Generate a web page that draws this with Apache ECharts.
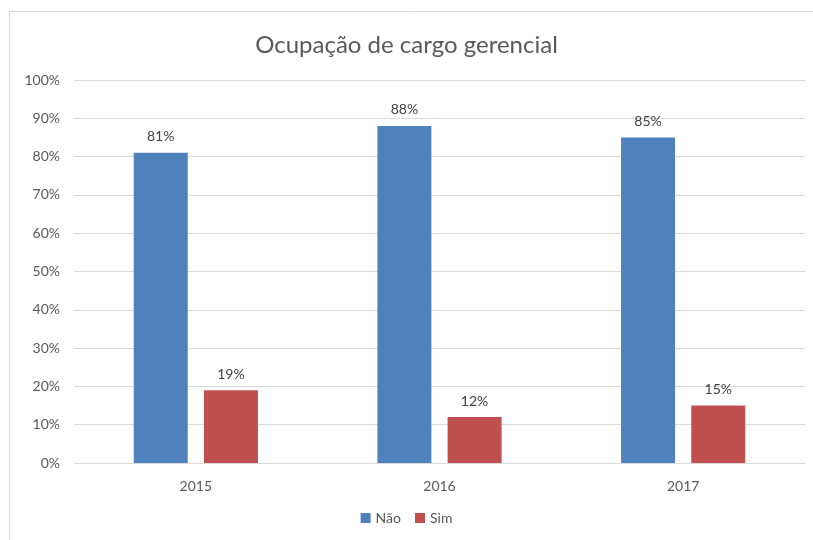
<!DOCTYPE html>
<html>
<head>
<meta charset="utf-8">
<script src="https://cdn.jsdelivr.net/npm/echarts@6/dist/echarts.min.js"></script>
<style>
html,body{margin:0;padding:0;background:#fff;}
#container{width:813px;height:540px;}
</style>
</head>
<body>
<div id="container"></div>
<script>
var categories = ['2015', '2016', '2017'];
var naoValues = [81, 88, 85];
var simValues = [19, 12, 15];
var yTicks = [0, 10, 20, 30, 40, 50, 60, 70, 80, 90, 100];

var font = 'Lato, "Open Sans", sans-serif';

var labelStyle = {
    show: true,
    position: 'top',
    distance: 9,
    formatter: '{c}%',
    color: '#404040',
    fontSize: 14,
    fontFamily: font
};

var option = {
    backgroundColor: '#fff',
    animation: false,
    graphic: [{
        type: 'rect',
        shape: {x: 9.5, y: 11.5, width: 820, height: 540},
        style: {fill: 'none', stroke: '#d9d9d9', lineWidth: 1},
        silent: true
    }],
    title: {
        text: 'Ocupação de cargo gerencial',
        left: 'center',
        top: 28,
        textStyle: {
            color: '#595959',
            fontSize: 24,
            fontWeight: 'normal',
            fontFamily: font
        }
    },
    legend: {
        bottom: 10,
        left: 'center',
        itemWidth: 10,
        itemHeight: 10,
        itemGap: 14,
        icon: 'rect',
        textStyle: {color: '#595959', fontSize: 14, fontFamily: font},
        data: ['Não', 'Sim']
    },
    grid: {
        left: 74,
        right: 8,
        top: 80,
        bottom: 77,
        containLabel: false
    },
    xAxis: {
        type: 'category',
        data: categories,
        axisLine: {lineStyle: {color: '#d9d9d9', width: 1}},
        axisTick: {show: false},
        axisLabel: {color: '#595959', fontSize: 14, fontFamily: font, margin: 16}
    },
    yAxis: {
        type: 'value',
        min: yTicks[0],
        max: yTicks[yTicks.length - 1],
        interval: 10,
        axisLine: {show: false},
        axisTick: {show: false},
        splitLine: {lineStyle: {color: '#d9d9d9', width: 1}},
        axisLabel: {
            formatter: '{value}%',
            color: '#595959',
            fontSize: 14,
            fontFamily: font,
            margin: 14
        }
    },
    series: [
        {
            name: 'Não',
            type: 'bar',
            data: naoValues,
            barWidth: 54,
            barGap: '30%',
            itemStyle: {color: '#4f81bd'},
            label: labelStyle
        },
        {
            name: 'Sim',
            type: 'bar',
            data: simValues,
            barWidth: 54,
            itemStyle: {color: '#c0504d'},
            label: labelStyle
        }
    ]
};

echarts.init(document.getElementById('container')).setOption(option);
</script>
</body>
</html>
